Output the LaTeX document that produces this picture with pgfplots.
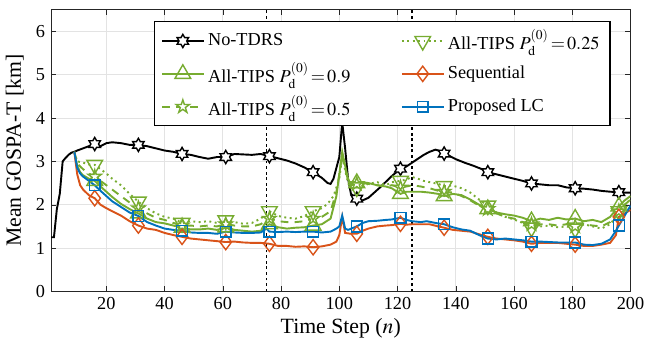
\documentclass[border=0pt]{standalone}
\usepackage{mathptmx}
\usepackage[no-math]{fontspec}
\setmainfont{Liberation Serif}
\usepackage{pgfplots}
\pgfplotsset{compat=1.18}
\definecolor{mgreen}{rgb}{0.4660,0.6740,0.1880}
\definecolor{morange}{rgb}{0.8500,0.3250,0.0980}
\definecolor{mblue}{rgb}{0,0.4470,0.7410}
\pgfdeclareplotmark{hexagram}{%
  \pgfpathmoveto{\pgfpointpolar{90}{\pgfplotmarksize}}%
  \pgfpathlineto{\pgfpointpolar{120}{0.577\pgfplotmarksize}}%
  \pgfpathlineto{\pgfpointpolar{150}{\pgfplotmarksize}}%
  \pgfpathlineto{\pgfpointpolar{180}{0.577\pgfplotmarksize}}%
  \pgfpathlineto{\pgfpointpolar{210}{\pgfplotmarksize}}%
  \pgfpathlineto{\pgfpointpolar{240}{0.577\pgfplotmarksize}}%
  \pgfpathlineto{\pgfpointpolar{270}{\pgfplotmarksize}}%
  \pgfpathlineto{\pgfpointpolar{300}{0.577\pgfplotmarksize}}%
  \pgfpathlineto{\pgfpointpolar{330}{\pgfplotmarksize}}%
  \pgfpathlineto{\pgfpointpolar{0}{0.577\pgfplotmarksize}}%
  \pgfpathlineto{\pgfpointpolar{30}{\pgfplotmarksize}}%
  \pgfpathlineto{\pgfpointpolar{60}{0.577\pgfplotmarksize}}%
  \pgfpathclose\pgfusepathqfillstroke}
\pgfdeclareplotmark{pentagram}{%
  \pgfpathmoveto{\pgfpointpolar{90}{\pgfplotmarksize}}%
  \pgfpathlineto{\pgfpointpolar{126}{0.382\pgfplotmarksize}}%
  \pgfpathlineto{\pgfpointpolar{162}{\pgfplotmarksize}}%
  \pgfpathlineto{\pgfpointpolar{198}{0.382\pgfplotmarksize}}%
  \pgfpathlineto{\pgfpointpolar{234}{\pgfplotmarksize}}%
  \pgfpathlineto{\pgfpointpolar{270}{0.382\pgfplotmarksize}}%
  \pgfpathlineto{\pgfpointpolar{306}{\pgfplotmarksize}}%
  \pgfpathlineto{\pgfpointpolar{342}{0.382\pgfplotmarksize}}%
  \pgfpathlineto{\pgfpointpolar{18}{\pgfplotmarksize}}%
  \pgfpathlineto{\pgfpointpolar{54}{0.382\pgfplotmarksize}}%
  \pgfpathclose\pgfusepathqfillstroke}
\pgfplotsset{
  sA/.style={black, line width=1.1pt, mark=hexagram, mark size=3.8pt, mark options={solid, black, fill=white, line width=0.8pt}},
  sB/.style={mgreen, line width=1.1pt, mark=triangle, mark size=5.2pt, mark options={solid, fill=white, line width=0.8pt}},
  sC/.style={mgreen, line width=1.1pt, dash pattern=on 4.5pt off 3.5pt, mark=pentagram, mark size=4pt, mark options={solid, fill=white, line width=0.8pt}},
  sD/.style={mgreen, line width=1.1pt, dash pattern=on 1.1pt off 2pt, mark=triangle, mark size=5.2pt, mark options={solid, rotate=180, fill=white, line width=0.8pt}},
  sE/.style={morange, line width=1.1pt, mark=diamond, mark size=4.4pt, mark options={solid, fill=white, line width=0.8pt}},
  sF/.style={mblue, line width=1.1pt, mark=square, mark size=3.1pt, mark options={solid, fill=white, line width=0.8pt}},
}
\begin{document}
\begin{tikzpicture}
\begin{axis}[
  width=333pt, height=162pt, scale only axis,
  xmin=1, xmax=200, ymin=0, ymax=6.5,
  xtick={20,40,...,200}, ytick={0,1,...,6},
  grid=major, major grid style={gray!22, line width=0.4pt},
  tick align=inside, major tick length=3pt,
  axis line style={black!85, line width=0.5pt},
  tick style={black!85},
  xlabel={Time Step ($n$)}, ylabel={Mean GOSPA-T [km]},
  label style={font=\fontsize{12.5}{15}\selectfont},
  ticklabel style={font=\fontsize{10.5}{12}\selectfont},
  xlabel style={yshift=2pt},
  /pgf/number format/assume math mode=true,
  legend columns=2,
  legend image code/.code={\draw[mark repeat=2,mark phase=2,#1] plot coordinates {(0cm,0cm)(0.42cm,0cm)(0.84cm,0cm)};},
  legend style={at={(0.177,0.958)}, anchor=north west, font=\fontsize{10.5}{12.5}\selectfont, draw=black, line width=0.6pt, fill=white,
    cells={anchor=west}, row sep=2pt, inner xsep=4pt, inner ysep=2.5pt,
    /tikz/every even column/.append style={column sep=27pt}},
]
\addlegendimage{sA}\addlegendentry{No-TDRS}
\addlegendimage{sD}\addlegendentry{All-TIPS $P_{\mathrm{d}}^{(0)}\!=\!0.25$}
\addlegendimage{sB}\addlegendentry{All-TIPS $P_{\mathrm{d}}^{(0)}\!=\!0.9$}
\addlegendimage{sE}\addlegendentry{Sequential}
\addlegendimage{sC}\addlegendentry{All-TIPS $P_{\mathrm{d}}^{(0)}\!=\!0.5$}
\addlegendimage{sF}\addlegendentry{Proposed LC}

\addplot[black, line width=0.8pt, dash pattern=on 1.6pt off 1.6pt, forget plot] coordinates {(75,0)(75,6.5)};
\addplot[black, line width=0.8pt, dash pattern=on 1.6pt off 1.6pt, forget plot] coordinates {(125,0)(125,6.5)};

% No-TDRS
\addplot[sA, mark=none, forget plot] coordinates {
(1,1.25)(2,1.25)(3,1.9)(4,2.25)(5,3.0)(6,3.08)(7,3.15)(8,3.2)(9,3.22)
(10,3.25)(12,3.3)(14,3.35)(16,3.4)(18,3.35)(20,3.42)(22,3.44)(25,3.42)(28,3.38)(31,3.38)(34,3.35)(37,3.3)(40,3.25)(43,3.22)(46,3.17)(49,3.15)(52,3.1)(55,3.06)(58,3.1)(61,3.1)(64,3.17)(67,3.16)(70,3.15)(73,3.17)(76,3.12)(79,3.07)(82,3.02)(85,2.95)(88,2.86)(91,2.75)(94,2.62)(96,2.5)(97,2.48)(98,2.6)(99,2.85)(100,3.1)(101,3.9)(102,3.3)(103,2.6)(104,2.25)(106,2.14)(108,2.1)(110,2.16)(112,2.28)(114,2.4)(116,2.53)(118,2.66)(121,2.83)(123,2.88)(125,2.97)(127,3.06)(129,3.15)(131,3.22)(133,3.27)(134,3.25)(136,3.18)(138,3.12)(140,3.05)(143,2.97)(146,2.9)(149,2.82)(151,2.75)(154,2.7)(157,2.65)(160,2.6)(163,2.55)(166,2.49)(169,2.47)(172,2.45)(175,2.45)(178,2.4)(181,2.38)(184,2.37)(187,2.35)(190,2.32)(193,2.3)(196,2.29)(198,2.28)(200,2.28)};
% 0.9
\addplot[sB, mark=none, forget plot] coordinates {
(9,3.22)(10,2.9)(11,2.75)(12,2.68)(14,2.6)(16,2.55)(18,2.42)(20,2.3)(22,2.18)(25,2.02)(28,1.9)(31,1.8)(34,1.68)(37,1.6)(40,1.57)(43,1.52)(46,1.47)(49,1.43)(52,1.43)(55,1.45)(58,1.42)(61,1.48)(64,1.42)(67,1.4)(70,1.38)(73,1.4)(76,1.55)(79,1.48)(82,1.45)(85,1.47)(88,1.48)(91,1.52)(94,1.55)(97,1.68)(99,2.2)(100,2.7)(101,3.22)(102,2.9)(103,2.6)(104,2.45)(106,2.5)(108,2.52)(110,2.5)(113,2.45)(116,2.42)(118,2.38)(121,2.25)(123,2.3)(125,2.3)(128,2.3)(131,2.28)(134,2.25)(136,2.2)(139,2.25)(142,2.22)(145,2.12)(148,2.0)(151,1.9)(154,1.82)(157,1.78)(160,1.75)(163,1.7)(166,1.62)(169,1.68)(172,1.65)(175,1.7)(178,1.66)(181,1.68)(184,1.62)(187,1.65)(190,1.6)(193,1.72)(195,1.88)(196,1.96)(198,2.1)(200,2.2)};
% 0.5
\addplot[sC, mark=none, forget plot] coordinates {
(9,3.22)(10,2.95)(12,2.82)(14,2.72)(16,2.65)(18,2.55)(20,2.45)(22,2.35)(25,2.2)(28,2.05)(31,1.92)(34,1.8)(37,1.7)(40,1.65)(43,1.58)(46,1.52)(49,1.52)(52,1.5)(55,1.52)(58,1.5)(61,1.55)(64,1.52)(67,1.5)(70,1.5)(73,1.55)(76,1.68)(79,1.62)(82,1.6)(85,1.6)(88,1.62)(91,1.68)(94,1.72)(97,1.85)(99,2.3)(100,2.7)(101,3.15)(102,2.85)(103,2.55)(104,2.45)(106,2.48)(108,2.5)(110,2.48)(113,2.45)(116,2.42)(118,2.45)(121,2.4)(123,2.42)(125,2.45)(128,2.42)(131,2.38)(134,2.32)(136,2.3)(139,2.28)(142,2.2)(145,2.1)(148,1.98)(151,1.9)(154,1.8)(157,1.72)(160,1.68)(163,1.6)(166,1.55)(169,1.55)(172,1.55)(175,1.52)(178,1.55)(181,1.5)(184,1.55)(187,1.52)(190,1.5)(193,1.6)(195,1.75)(196,1.85)(198,2.0)(200,2.12)};
% 0.25
\addplot[sD, mark=none, forget plot] coordinates {
(9,3.22)(10,3.0)(12,2.97)(14,2.93)(16,2.92)(18,2.82)(20,2.72)(22,2.6)(25,2.45)(28,2.25)(31,2.07)(34,1.92)(37,1.8)(40,1.72)(43,1.68)(46,1.58)(49,1.62)(52,1.6)(55,1.62)(58,1.58)(61,1.64)(64,1.6)(67,1.56)(70,1.58)(73,1.68)(76,1.85)(79,1.74)(82,1.7)(85,1.68)(88,1.74)(91,1.85)(94,1.92)(96,2.02)(98,2.2)(100,2.6)(101,3.1)(102,2.8)(103,2.5)(104,2.38)(106,2.4)(108,2.44)(110,2.48)(113,2.52)(116,2.45)(118,2.52)(121,2.55)(123,2.58)(125,2.64)(127,2.6)(129,2.55)(131,2.52)(134,2.48)(136,2.43)(139,2.44)(142,2.38)(145,2.28)(148,2.12)(151,1.98)(154,1.82)(157,1.72)(160,1.66)(163,1.58)(166,1.47)(169,1.5)(172,1.52)(175,1.48)(178,1.5)(181,1.45)(184,1.55)(187,1.5)(190,1.45)(193,1.55)(195,1.72)(196,1.85)(198,2.0)(200,2.12)};
% Sequential
\addplot[sE, mark=none, forget plot] coordinates {
(9,3.22)(10,2.7)(11,2.45)(12,2.35)(14,2.22)(16,2.15)(18,2.0)(20,1.92)(22,1.85)(25,1.75)(28,1.62)(31,1.52)(34,1.45)(37,1.42)(40,1.35)(43,1.3)(46,1.26)(49,1.22)(52,1.2)(55,1.18)(58,1.16)(61,1.14)(64,1.15)(67,1.13)(70,1.12)(73,1.12)(76,1.1)(79,1.05)(82,1.05)(85,1.03)(88,1.04)(91,1.02)(94,1.04)(97,1.08)(99,1.15)(100,1.3)(101,1.72)(102,1.35)(104,1.33)(106,1.33)(108,1.4)(110,1.45)(113,1.5)(116,1.52)(118,1.53)(121,1.56)(123,1.54)(125,1.55)(128,1.55)(131,1.55)(134,1.5)(136,1.47)(139,1.42)(142,1.4)(145,1.38)(148,1.32)(151,1.26)(154,1.22)(157,1.2)(160,1.18)(163,1.15)(166,1.1)(169,1.12)(172,1.12)(175,1.12)(178,1.1)(181,1.08)(184,1.05)(187,1.05)(190,1.08)(193,1.12)(195,1.3)(196,1.72)(198,1.8)(200,1.88)};
% Proposed LC
\addplot[sF, mark=none, forget plot] coordinates {
(9,3.22)(10,2.85)(11,2.72)(12,2.65)(14,2.55)(16,2.45)(18,2.32)(20,2.2)(22,2.08)(25,1.95)(28,1.82)(31,1.74)(34,1.6)(37,1.52)(40,1.45)(43,1.42)(46,1.4)(49,1.36)(52,1.35)(55,1.35)(58,1.33)(61,1.38)(64,1.36)(67,1.35)(70,1.35)(73,1.36)(75,1.45)(76,1.38)(79,1.37)(82,1.38)(85,1.37)(88,1.38)(91,1.38)(94,1.36)(97,1.38)(99,1.45)(100,1.5)(101,1.75)(102,1.45)(103,1.42)(106,1.5)(108,1.58)(110,1.62)(113,1.63)(116,1.65)(118,1.66)(121,1.7)(123,1.65)(125,1.62)(128,1.6)(130,1.62)(133,1.58)(136,1.55)(139,1.48)(142,1.43)(145,1.4)(148,1.3)(151,1.22)(154,1.2)(157,1.22)(160,1.2)(163,1.18)(166,1.15)(169,1.15)(172,1.14)(175,1.13)(178,1.13)(181,1.13)(184,1.08)(187,1.07)(190,1.1)(193,1.2)(195,1.4)(196,1.52)(198,1.75)(200,1.98)};

% markers
\addplot[sA, only marks, forget plot] coordinates {(16,3.4)(31,3.38)(46,3.17)(61,3.1)(76,3.12)(91,2.75)(106,2.14)(121,2.83)(136,3.18)(151,2.75)(166,2.49)(181,2.38)(196,2.29)};
\addplot[sB, only marks, forget plot] coordinates {(16,2.55)(31,1.8)(46,1.47)(61,1.48)(76,1.55)(91,1.52)(106,2.5)(121,2.25)(136,2.2)(151,1.9)(166,1.62)(181,1.68)(196,1.96)};
\addplot[sC, only marks, forget plot] coordinates {(16,2.65)(31,1.92)(46,1.52)(61,1.55)(76,1.68)(91,1.68)(106,2.48)(121,2.4)(136,2.3)(151,1.9)(166,1.55)(181,1.5)(196,1.85)};
\addplot[sD, only marks, forget plot] coordinates {(16,2.92)(31,2.07)(46,1.58)(61,1.64)(76,1.85)(91,1.85)(106,2.4)(121,2.55)(136,2.43)(151,1.98)(166,1.47)(181,1.45)(196,1.85)};
\addplot[sE, only marks, forget plot] coordinates {(16,2.15)(31,1.52)(46,1.26)(61,1.14)(76,1.1)(91,1.02)(106,1.33)(121,1.56)(136,1.47)(151,1.26)(166,1.1)(181,1.08)(196,1.72)};
\addplot[sF, only marks, forget plot] coordinates {(16,2.45)(31,1.74)(46,1.4)(61,1.38)(76,1.38)(91,1.38)(106,1.5)(121,1.7)(136,1.55)(151,1.22)(166,1.15)(181,1.13)(196,1.52)};
\end{axis}
\path ([yshift=5.5pt]current axis.north);
\end{tikzpicture}
\end{document}
